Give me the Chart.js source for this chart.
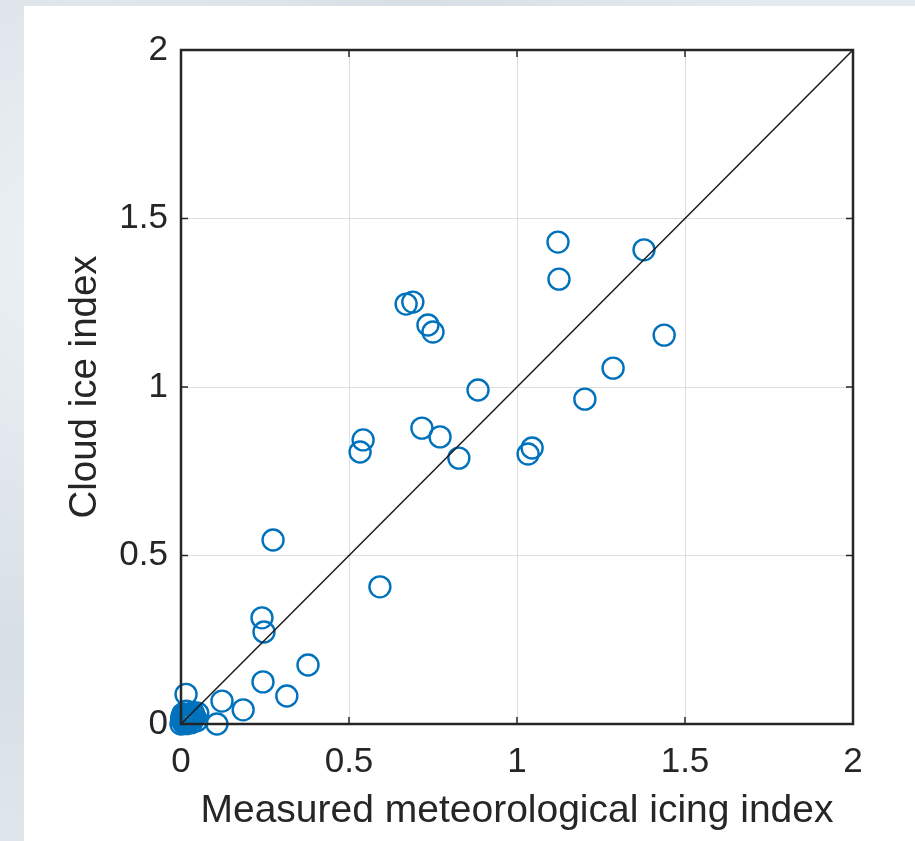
<!DOCTYPE html>
<html>
<head>
<meta charset="utf-8">
<script src="https://cdn.jsdelivr.net/npm/chart.js@4"></script>
<style>
  html, body { margin: 0; padding: 0; }
  body {
    width: 915px; height: 841px; overflow: hidden;
    background: #dfe6ec;
    background-image: radial-gradient(circle at 10% 30%, #eef2f5 0, #d7dfe6 40%, #e4eaef 70%);
    position: relative;
  }
  #panel { position: absolute; left: 24px; top: 6px; right: 0; bottom: 0; background: #fff; }
  #c { position: absolute; left: 0; top: 0; }
</style>
</head>
<body>
<div id="panel"></div>
<canvas id="c" width="915" height="841"></canvas>
<script>
// measured meteorological icing index (x) vs cloud ice index (y)
const measured = [1.122, 1.125, 1.378, 1.438, 1.286, 1.202, 0.884, 0.670, 0.690, 0.735, 0.750,
  0.542, 0.533, 0.717, 0.771, 0.827, 1.045, 1.033, 0.274, 0.592, 0.241, 0.247, 0.378,
  0.244, 0.315, 0.185, 0.122, 0.107, 0.015,
  0.000, 0.004, 0.009, 0.013, 0.019, 0.024, 0.029, 0.036, 0.041, 0.047, 0.050, 0.006, 0.016,
  0.002, 0.011, 0.021, 0.031, 0.026, 0.008, 0.017, 0.038, 0.003, 0.033];
const cloudIce = [1.430, 1.320, 1.407, 1.154, 1.056, 0.964, 0.991, 1.246, 1.252, 1.184, 1.163,
  0.843, 0.807, 0.878, 0.852, 0.789, 0.819, 0.801, 0.546, 0.407, 0.315, 0.273, 0.175,
  0.125, 0.083, 0.042, 0.068, 0.000, 0.088,
  0.000, 0.010, 0.002, 0.020, 0.006, 0.028, 0.012, 0.034, 0.021, 0.010, 0.032, 0.030, 0.038,
  0.015, 0.025, 0.016, 0.004, 0.022, 0.012, 0.001, 0.027, 0.022, 0.017];
const refLine = [0, 2];
const tickValues = [0, 0.5, 1, 1.5, 2];
const tickLabels = ['0', '0.5', '1', '1.5', '2'];

const points = measured.map((x, i) => ({ x: x, y: cloudIce[i] }));
const linePts = refLine.map(v => ({ x: v, y: v }));

const fontFamily = 'Arial, "Liberation Sans", Helvetica, sans-serif';
const textColor = '#262626';

// box round the axes, with inward ticks on all four sides
const boxPlugin = {
  id: 'box',
  afterDatasetsDraw(chart) {
    const a = chart.chartArea, ctx = chart.ctx;
    const xs = chart.scales.x, ys = chart.scales.y;
    const len = 7;
    ctx.save();
    ctx.strokeStyle = textColor;
    ctx.lineWidth = 1.5;
    ctx.beginPath();
    tickValues.forEach(v => {
      const px = xs.getPixelForValue(v);
      ctx.moveTo(px, a.bottom); ctx.lineTo(px, a.bottom - len);
      ctx.moveTo(px, a.top); ctx.lineTo(px, a.top + len);
      const py = ys.getPixelForValue(v);
      ctx.moveTo(a.left, py); ctx.lineTo(a.left + len, py);
      ctx.moveTo(a.right, py); ctx.lineTo(a.right - len, py);
    });
    ctx.stroke();
    ctx.lineWidth = 2.5;
    ctx.strokeRect(a.left, a.top, a.right - a.left, a.bottom - a.top);
    ctx.restore();
  }
};

new Chart(document.getElementById('c'), {
  type: 'scatter',
  data: {
    datasets: [{
      type: 'line',
      data: linePts,
      borderColor: '#1a1a1a',
      borderWidth: 1.5,
      pointRadius: 0,
      fill: false
    }, {
      data: points,
      pointRadius: 10.5,
      pointHoverRadius: 10.5,
      pointBorderWidth: 2.4,
      pointBorderColor: '#0072BD',
      pointBackgroundColor: 'rgba(0,0,0,0)',
      clip: false
    }]
  },
  options: {
    responsive: false,
    animation: false,
    devicePixelRatio: 1,
    layout: { padding: { left: 24, top: 50, right: 62, bottom: 0 } },
    plugins: { legend: { display: false }, tooltip: { enabled: false } },
    scales: {
      x: {
        type: 'linear', min: 0, max: 2,
        afterFit(s) { s.height = 117; },
        afterBuildTicks(s) { s.ticks = tickValues.map(v => ({ value: v })); },
        grid: { color: '#dedede', lineWidth: 1, drawTicks: false },
        border: { display: false },
        ticks: {
          padding: 17, color: textColor,
          font: { family: fontFamily, size: 35 },
          callback: (v) => tickLabels[tickValues.indexOf(v)]
        },
        title: {
          display: true, text: 'Measured meteorological icing index',
          color: textColor, font: { family: fontFamily, size: 39 },
          padding: { top: 0, bottom: 6 }
        }
      },
      y: {
        type: 'linear', min: 0, max: 2,
        afterFit(s) { s.width = 157; },
        afterBuildTicks(s) { s.ticks = tickValues.map(v => ({ value: v })); },
        grid: { color: '#dedede', lineWidth: 1, drawTicks: false },
        border: { display: false },
        ticks: {
          padding: 13, color: textColor,
          font: { family: fontFamily, size: 35 },
          callback: (v) => tickLabels[tickValues.indexOf(v)]
        },
        title: {
          display: true, text: 'Cloud ice index',
          color: textColor, font: { family: fontFamily, size: 38.5 },
          padding: { top: 38, bottom: 0 }
        }
      }
    }
  },
  plugins: [boxPlugin]
});
</script>
</body>
</html>
